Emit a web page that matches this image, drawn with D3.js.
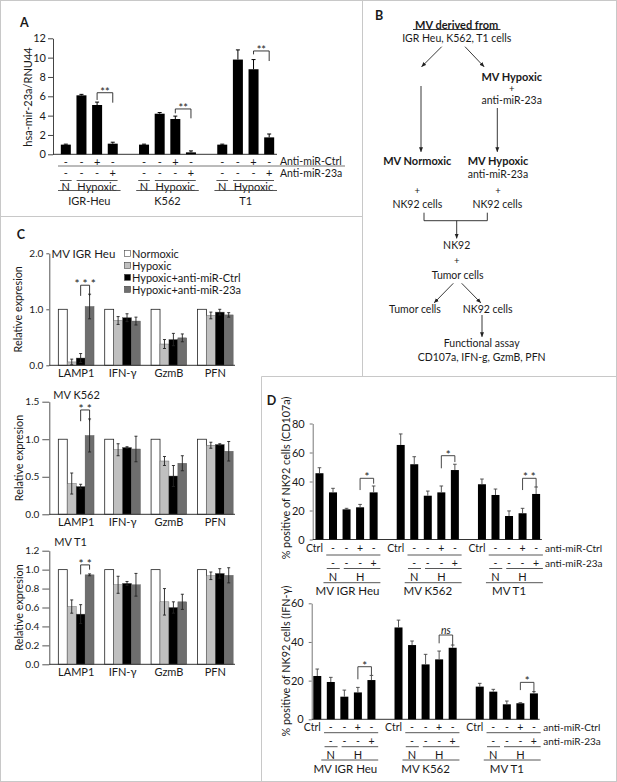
<!DOCTYPE html>
<html><head><meta charset="utf-8">
<script src="https://cdn.jsdelivr.net/npm/d3@7"></script>
<style>
body{margin:0;background:#fff;}
text{font-family:Lato,'Liberation Sans',sans-serif;fill:#1a1a1a;}
</style></head><body>
<script>
// ================= DATA =================
// Panel A
const aGroups=["IGR-Heu","K562","T1"];
const aValues=[[1.0,6.1,5.1,1.1],[1.0,4.2,3.65,0.2],[1.0,9.8,8.8,1.75]];
const aErrors=[[0.05,0.1,0.3,0.15],[0.05,0.12,0.3,0.15],[0.05,1.0,1.0,0.35]];
const aTicks=[0,2,4,6,8,10,12];
const aCtrlRow=["-","-","+","-"];
const a23aRow=["-","-","-","+"];
const aRowLabels=["Anti-miR-Ctrl","Anti-miR-23a"];
const aCond=["N","Hypoxic"];
const aSig=["**","**","**"];
const aBracketTop=[6.37,4.69,10.69];
const aBracketLeft=[5.62,4.24,10.34];
const aBracketRight=[5.34,3.72,9.65];

// Panel C
const cGenes=["LAMP1","IFN-\u03b3","GzmB","PFN"];
const cSeries=["Normoxic","Hypoxic","Hypoxic+anti-miR-Ctrl","Hypoxic+anti-miR-23a"];
const cColors=["#ffffff","#c0c0c0","#000000","#6e6e6e"];
const cTitles=["MV IGR Heu","MV K562","MV T1"];
const cIGR=[[1,0.06,0.13,1.05],[1,0.80,0.85,0.79],[1,0.38,0.46,0.49],[1,0.89,0.95,0.90]];
const cIGRErr=[[0,0.05,0.08,0.22],[0,0.07,0.07,0.07],[0,0.08,0.11,0.07],[0,0.06,0.05,0.04]];
const cK562=[[1,0.41,0.37,1.05],[1,0.86,0.89,0.87],[1,0.71,0.51,0.68],[1,0.92,0.93,0.84]];
const cK562Err=[[0,0.14,0.03,0.22],[0,0.08,0.01,0.17],[0,0.06,0.14,0.10],[0,0.04,0.01,0.13]];
const cT1=[[1,0.61,0.53,0.945],[1,0.84,0.855,0.84],[1,0.66,0.60,0.66],[1,0.935,0.96,0.94]];
const cT1Err=[[0,0.07,0.10,0.01],[0,0.09,0.02,0.12],[0,0.14,0.06,0.08],[0,0.04,0.05,0.08]];
const cTicksIGR=[0,1,2];
const cTicksK562=[0,0.5,1,1.5];
const cTicksT1=[0,0.2,0.4,0.6,0.8,1.0,1.2];
const cSig=["* * *","* *","* *"];
const cBracketTop=[1.43,1.39,1.05];
const cBracketLeft=[1.24,1.24,0.95];
const cBracketRight=[1.24,1.24,1.0];

// Panel D
const dGroups=["MV IGR Heu","MV K562","MV T1"];
const dCD107a=[[45.7,32.5,20.8,22.2,32.5],[65.2,51.9,30.2,32.5,47.9],[38.1,30.7,16.2,18.1,31.4]];
const dCD107aErr=[[3.8,2.8,0.7,2.0,4.4],[7.6,5.2,3.2,4.4,4.0],[3.6,4.1,3.5,3.4,4.8]];
const dIFNg=[[22.4,19.3,11.7,13.9,20.3],[47.5,38.4,28.4,31.0,37.0],[16.9,14.3,7.75,8.3,13.4]];
const dIFNgErr=[[3.6,2.4,3.4,2.6,2.4],[3.8,2.1,5.2,4.3,1.4],[1.7,1.2,1.7,0.3,0.9]];
const dTicksTop=[0,20,40,60,80];
const dTicksBottom=[0,20,40,60];
const dCtrlRow=["Ctrl","-","-","+","-"];
const d23aRow=["","-","-","-","+"];
const dRowLabels=["anti-miR-Ctrl","anti-miR-23a"];
const dCond=["N","H"];
const dSigTop=["*","*","* *"];
const dSigBottom=["*","ns","*"];
const dBrTop=[[42.2,34.1,38.5],[57.8,49.1,53.4],[42.2,34.1,36.2]];
const dBrBottom=[[27.2,20.7,22.9],[43.6,39.3,38.4],[19.1,15.1,14.0]];

// ================= DRAW =================
const W=617,H=782;
const svg=d3.select("body").append("svg").attr("width",W).attr("height",H).style("display","block");
svg.append("rect").attr("width",W).attr("height",H).attr("fill","#fff");
const defs=svg.append("defs");
defs.append("marker").attr("id","arr").attr("viewBox","0 0 10 10").attr("refX",9).attr("refY",5)
  .attr("markerWidth",5).attr("markerHeight",5).attr("markerUnits","userSpaceOnUse").attr("orient","auto")
  .append("path").attr("d","M0,1L10,5L0,9z").attr("fill","#222");

function T(g,x,y,s,o={}){
  const t=g.append("text").attr("x",x).attr("y",y).text(s)
    .attr("font-size",o.size||11).attr("text-anchor",o.anchor||"middle")
    .attr("dominant-baseline",o.base||"central");
  if(o.bold) t.attr("font-weight","bold");
  if(o.italic) t.attr("font-style","italic");
  if(o.rotate) t.attr("transform",`rotate(-90,${x},${y})`);
  if(o.ls) t.attr("letter-spacing",o.ls);
  return t;
}
function L(g,x1,y1,x2,y2,c="#333",w=0.9){
  return g.append("line").attr("x1",x1).attr("y1",y1).attr("x2",x2).attr("y2",y2).attr("stroke",c).attr("stroke-width",w);
}
function styleAxis(sel,color,size){
  sel.select(".domain").attr("stroke",color).attr("stroke-width",1);
  sel.selectAll(".tick line").attr("stroke",color);
  sel.selectAll("text").attr("font-size",size);
}

// ---- borders ----
const bc="#c8c8c8";
svg.append("rect").attr("x",0.5).attr("y",0.5).attr("width",616).attr("height",781).attr("fill","none").attr("stroke",bc);
L(svg,362.5,0,362.5,376,bc,1);
L(svg,0,216.5,362.5,216.5,bc,1);
L(svg,261.5,376.5,617,376.5,bc,1);
L(svg,261.5,376.5,261.5,782,bc,1);

// ---- Panel A ----
(function(){
  const g=svg.append("g");
  T(g,20,27.3,"A",{size:12.5,bold:true,anchor:"start",base:"auto"});
  const y=d3.scaleLinear().domain([0,12]).range([154.3,38.3]);
  const x=d3.scaleBand().domain(d3.range(14)).range([58,277]);
  const bw=x.bandwidth(), barW=10;
  const cx=(gi,i)=>x(gi*5+i)+bw/2;
  const ax=g.append("g").attr("transform","translate(53,0)")
    .call(d3.axisLeft(y).tickValues(aTicks).tickSize(5).tickSizeOuter(0).tickPadding(2).tickFormat(d3.format("d")));
  styleAxis(ax,"#444",11);
  L(g,53,y(0),277,y(0),"#333",1);
  T(g,27,97,"hsa-mir-23a/RNU44",{size:11,rotate:true});
  aGroups.forEach((grp,gi)=>{
    aValues[gi].forEach((v,i)=>{
      g.append("rect").attr("x",cx(gi,i)-barW/2).attr("y",y(v)).attr("width",barW).attr("height",y(0)-y(v)).attr("fill","#000");
      const e=aErrors[gi][i];
      L(g,cx(gi,i),y(v),cx(gi,i),y(v+e),"#000",1);
      L(g,cx(gi,i)-2,y(v+e),cx(gi,i)+2,y(v+e),"#000",1);
      T(g,cx(gi,i),161,aCtrlRow[i],{size:11});
      T(g,cx(gi,i),172.7,a23aRow[i],{size:11});
    });
    const xl=cx(gi,2), xr=cx(gi,3);
    g.append("path").attr("d",`M${xl},${y(aBracketLeft[gi])}V${y(aBracketTop[gi])}H${xr}V${y(aBracketRight[gi])}`)
      .attr("fill","none").attr("stroke","#222").attr("stroke-width",0.9);
    T(g,(xl+xr)/2,y(aBracketTop[gi])+3.5,aSig[gi],{size:11,base:"auto"});
    L(g,x(gi*5)+2,180.5,x(gi*5)+bw-2,180.5,"#444",0.9);
    L(g,x(gi*5+1)+3,180.5,x(gi*5+3)+bw-3,180.5,"#444",0.9);
    T(g,cx(gi,0),186,aCond[0],{size:11});
    T(g,cx(gi,2),186,aCond[1],{size:11});
    L(g,x(gi*5),190.5,x(gi*5+3)+bw,190.5,"#444",0.9);
    T(g,(cx(gi,1)+cx(gi,2))/2,200.5,grp,{size:11});
  });
  L(g,58,166,345,166,"#666",0.9);
  T(g,280,161,aRowLabels[0],{size:10.5,anchor:"start"});
  T(g,280,172.7,aRowLabels[1],{size:10.5,anchor:"start"});
})();

// ---- Panel B ----
(function(){
  const g=svg.append("g");
  T(g,375,19.5,"B",{size:12.5,bold:true,anchor:"start",base:"auto"});
  T(g,456.7,24,"MV derived from",{size:11,bold:true});
  L(g,413,29.5,500.5,29.5,"#222",0.9);
  T(g,456.7,37.7,"IGR Heu, K562, T1 cells",{size:10.5});
  const arrow=(x1,y1,x2,y2)=>L(g,x1,y1,x2,y2,"#222",0.9).attr("marker-end","url(#arr)");
  arrow(441.7,46.7,421.7,66.7);
  arrow(465,46.7,484,66.7);
  T(g,511.7,76,"MV Hypoxic",{size:11,bold:true});
  T(g,511.7,88.5,"+",{size:9.5});
  T(g,511.7,100,"anti-miR-23a",{size:10.5});
  arrow(421,86,421,151.7);
  arrow(497.3,108,497.3,151.7);
  T(g,417.3,160.7,"MV Normoxic",{size:11,bold:true});
  T(g,498,160.7,"MV Hypoxic",{size:11,bold:true});
  T(g,498,174.3,"anti-miR-23a",{size:10.5});
  T(g,417.3,190.5,"+",{size:9.5});
  T(g,498,190.5,"+",{size:9.5});
  T(g,417.3,204.3,"NK92 cells",{size:10.5});
  T(g,497.3,204.3,"NK92 cells",{size:10.5});
  g.append("path").attr("d","M424,212.7V220.7H487.3V212.7").attr("fill","none").attr("stroke","#222").attr("stroke-width",0.9);
  arrow(456.7,220.7,456.7,238.3);
  T(g,456.7,245,"NK92",{size:10.5});
  T(g,456.7,260,"+",{size:9.5});
  T(g,457.7,275,"Tumor cells",{size:10.5});
  arrow(453.3,283.3,434.3,302.7);
  arrow(461.7,283.3,480.7,302.7);
  T(g,415,309,"Tumor cells",{size:10.5});
  T(g,487.7,309,"NK92 cells",{size:10.5});
  arrow(482,315,482,336.7);
  T(g,481.7,342.7,"Functional assay",{size:10.5});
  T(g,481.7,356.7,"CD107a, IFN-g, GzmB, PFN",{size:10.5});
})();

// ---- Panel C ----
T(svg,16.7,239.3,"C",{size:12.5,bold:true,anchor:"start",base:"auto"});
function drawC(cfg){
  const g=svg.append("g");
  const y=d3.scaleLinear().domain([0,cfg.max]).range([cfg.zero,cfg.top]);
  const x0=d3.scaleBand().domain(cGenes).range([53,238.5]).paddingInner(0.23).paddingOuter(0.115);
  const x1=d3.scaleBand().domain(d3.range(4)).range([0,x0.bandwidth()]);
  const ax=g.append("g").attr("transform","translate(49.3,0)")
    .call(d3.axisLeft(y).tickValues(cfg.ticks).tickFormat(d3.format(".1f")).tickSize(cfg.tickSize).tickSizeOuter(0).tickPadding(cfg.tickPad));
  styleAxis(ax,"#555",10);
  cGenes.forEach((gene,gi)=>{
    cfg.vals[gi].forEach((v,si)=>{
      const bx=x0(gene)+x1(si);
      g.append("rect").attr("x",bx).attr("y",y(v)).attr("width",x1.bandwidth()).attr("height",y(0)-y(v))
        .attr("fill",cColors[si]).attr("stroke",si===0?"#222":"#555").attr("stroke-width",si===0?0.8:0.4);
      const e=cfg.errs[gi][si];
      if(e>0){
        const cx=bx+x1.bandwidth()/2;
        L(g,cx,y(v-e),cx,y(v+e),"#222",0.9);
        L(g,cx-1.5,y(v+e),cx+1.5,y(v+e),"#222",0.9);
        L(g,cx-1.5,y(v-e),cx+1.5,y(v-e),"#222",0.9);
      }
    });
    T(g,x0(gene)+x0.bandwidth()/2,cfg.zero+7,gene,{size:11});
  });
  L(g,49.3,cfg.zero,235,cfg.zero,"#333",1);
  T(g,cfg.titleX,cfg.titleY,cfg.title,{size:cfg.titleSize,anchor:"start"});
  T(g,18,(cfg.zero+cfg.top)/2,"Relative expresion",{size:10.8,rotate:true});
  const xl=x0(cGenes[0])+x1(2)+x1.bandwidth()/2, xr=x0(cGenes[0])+x1(3)+x1.bandwidth()/2;
  g.append("path").attr("d",`M${xl},${y(cfg.brL)}V${y(cfg.brT)}H${xr}V${y(cfg.brR)}`)
    .attr("fill","none").attr("stroke","#222").attr("stroke-width",0.9);
  T(g,(xl+xr)/2,y(cfg.brT)+3,cfg.sig,{size:12,base:"auto"});
  return g;
}
const gC1=drawC({vals:cIGR,errs:cIGRErr,max:2,zero:365.3,top:253.3,ticks:cTicksIGR,tickSize:3,tickPad:3,
  title:cTitles[0],titleX:51.5,titleY:253.3,titleSize:11.5,sig:cSig[0],brT:cBracketTop[0],brL:cBracketLeft[0],brR:cBracketRight[0]});
drawC({vals:cK562,errs:cK562Err,max:1.5,zero:514.3,top:401.7,ticks:cTicksK562,tickSize:7,tickPad:3,
  title:cTitles[1],titleX:53.3,titleY:394.3,titleSize:11,sig:cSig[1],brT:cBracketTop[1],brL:cBracketLeft[1],brR:cBracketRight[1]});
drawC({vals:cT1,errs:cT1Err,max:1.2,zero:664.3,top:550.7,ticks:cTicksT1,tickSize:7,tickPad:3,
  title:cTitles[2],titleX:54.3,titleY:541.7,titleSize:11,sig:cSig[2],brT:cBracketTop[2],brL:cBracketLeft[2],brR:cBracketRight[2]});
cSeries.forEach((s,i)=>{
  const yy=253.3+i*12;
  gC1.append("rect").attr("x",124.5).attr("y",yy-3).attr("width",6).attr("height",6)
    .attr("fill",cColors[i]).attr("stroke","#444").attr("stroke-width",0.6);
  T(gC1,132,yy,s,{size:11,anchor:"start"});
});

// ---- Panel D ----
T(svg,266.7,404.5,"D",{size:12.5,bold:true,anchor:"start",base:"auto"});
function drawD(cfg){
  const g=svg.append("g");
  const x=d3.scaleBand().domain(d3.range(17)).range([cfg.x0,cfg.x0+17*13.54]);
  const y=d3.scaleLinear().domain([0,cfg.max]).range([cfg.zero,cfg.top]);
  const bw=x.bandwidth(), barW=8;
  const cx=(gi,i)=>x(gi*6+i)+bw/2;
  const ax=g.append("g").attr("transform",`translate(${cfg.axisX},0)`)
    .call(d3.axisLeft(y).tickValues(cfg.ticks).tickSize(3).tickSizeOuter(0).tickPadding(5).tickFormat(d3.format("d")));
  styleAxis(ax,"#777",11);
  L(g,cfg.axisX,cfg.zero,cfg.x0+17*13.54-1,cfg.zero,"#333",1);
  T(g,285,cfg.labelY,cfg.label,{size:10.8,rotate:true});
  const o=cfg.off;
  dGroups.forEach((grp,gi)=>{
    cfg.vals[gi].forEach((v,i)=>{
      g.append("rect").attr("x",cx(gi,i)-barW/2).attr("y",y(v)).attr("width",barW).attr("height",y(0)-y(v)).attr("fill","#000");
      const e=cfg.errs[gi][i];
      L(g,cx(gi,i),y(v),cx(gi,i),y(v+e),"#444",0.9);
      L(g,cx(gi,i)-1.8,y(v+e),cx(gi,i)+1.8,y(v+e),"#444",0.9);
      T(g,cx(gi,i)-(i===0?5:0),cfg.zero+o[0],dCtrlRow[i],{size:10.5});
      if(d23aRow[i]) T(g,cx(gi,i),cfg.zero+o[2],d23aRow[i],{size:10.5});
    });
    const br=cfg.br[gi];
    const xl=cx(gi,3), xr=cx(gi,4);
    g.append("path").attr("d",`M${xl},${y(br[1])}V${y(br[0])}H${xr}V${y(br[2])}`)
      .attr("fill","none").attr("stroke","#333").attr("stroke-width",0.9);
    if(cfg.sig[gi]==="ns") T(g,(xl+xr)/2,y(br[0])-5.5,"ns",{size:10.5,italic:true});
    else T(g,(xl+xr)/2,y(br[0])+3,cfg.sig[gi],{size:11.5,base:"auto"});
    L(g,x(gi*6+1),cfg.zero+o[1],x(gi*6+4)+bw,cfg.zero+o[1],"#444",0.9);
    L(g,x(gi*6+1)+0.5,cfg.zero+o[3],x(gi*6+1)+bw,cfg.zero+o[3],"#444",0.9);
    L(g,x(gi*6+2)+4,cfg.zero+o[3],x(gi*6+4)+bw,cfg.zero+o[3],"#444",0.9);
    T(g,cx(gi,1),cfg.zero+o[4],dCond[0],{size:11});
    T(g,cx(gi,3),cfg.zero+o[4],dCond[1],{size:11});
    L(g,cx(gi,0)+4,cfg.zero+o[5],x(gi*6+4)+bw,cfg.zero+o[5],"#444",0.9);
    T(g,(cx(gi,1)+cx(gi,3))/2+(gi===0?1:0),cfg.zero+o[6],grp,{size:11.5});
  });
  T(g,cfg.rowLabelX,cfg.zero+o[0],dRowLabels[0],{size:10,anchor:"start"});
  T(g,cfg.rowLabelX,cfg.zero+o[2],dRowLabels[1],{size:10,anchor:"start"});
}
drawD({vals:dCD107a,errs:dCD107aErr,max:80,zero:539.5,top:423.5,ticks:dTicksTop,x0:312.7,axisX:312.7,
  label:"% positive of NK92 cells (CD107a)",labelY:478,sig:dSigTop,br:dBrTop,
  off:[8.5,15.5,23.2,29,37.2,43.2,51.2],rowLabelX:545});
drawD({vals:dIFNg,errs:dIFNgErr,max:60,zero:719.3,top:603.3,ticks:dTicksBottom,x0:310.5,axisX:311.7,
  label:"% positive of NK92 cells (IFN-\u03b3)",labelY:661,sig:dSigBottom,br:dBrBottom,
  off:[8,13.4,21.4,27.4,34.7,40.7,49],rowLabelX:543.3});
</script></body></html>
